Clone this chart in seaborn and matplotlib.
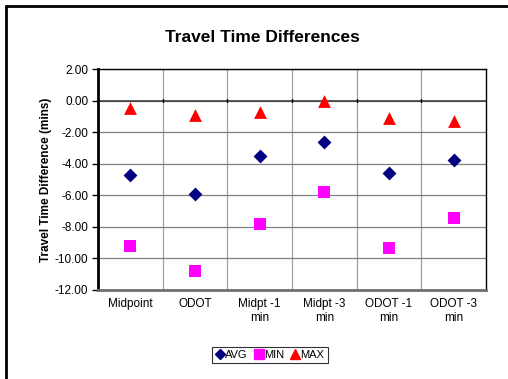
import matplotlib
matplotlib.use("Agg")
import matplotlib.pyplot as plt
from matplotlib.lines import Line2D
import numpy as np
import pandas as pd
import seaborn as sns

categories = ["Midpoint", "ODOT", "Midpt -1\nmin", "Midpt -3\nmin", "ODOT -1\nmin", "ODOT -3\nmin"]
avg_vals = [-4.70, -5.90, -3.50, -2.65, -4.60, -3.75]
min_vals = [-9.20, -10.80, -7.80, -5.80, -9.35, -7.45]
max_vals = [-0.45, -0.90, -0.70, -0.02, -1.10, -1.30]
y_ticks = [2, 0, -2, -4, -6, -8, -10, -12]

series_names = ["AVG", "MIN", "MAX"]
series_colors = {"AVG": "#000080", "MIN": "#FF00FF", "MAX": "#FF0000"}
series_markers = {"AVG": "D", "MIN": "s", "MAX": "^"}
series_sizes = {"AVG": 50, "MIN": 75, "MAX": 85}

df = pd.DataFrame({
    "category": categories * 3,
    "value": avg_vals + min_vals + max_vals,
    "series": ["AVG"] * 6 + ["MIN"] * 6 + ["MAX"] * 6,
})

sns.set_theme(style="white")
plt.rcParams["font.family"] = ["Liberation Sans", "DejaVu Sans"]
plt.rcParams["text.color"] = "black"
plt.rcParams["axes.labelcolor"] = "black"
plt.rcParams["xtick.color"] = "black"
plt.rcParams["ytick.color"] = "black"

fig = plt.figure(figsize=(5.08, 3.79), dpi=100)
ax = fig.add_axes([98 / 508, 1 - 290 / 379, (486 - 98) / 508, (290 - 69) / 379])

for name in series_names:
    sub = df[df["series"] == name]
    sns.scatterplot(data=sub, x="category", y="value", marker=series_markers[name],
                    color=series_colors[name], s=series_sizes[name], linewidth=0,
                    ax=ax, zorder=5, legend=False)

ax.set_xlim(-0.5, len(categories) - 0.5)
ax.set_ylim(-12, 2)
ax.set_yticks(y_ticks)
ax.set_yticklabels([f"{v:.2f}" for v in y_ticks], fontsize=8.5)
ax.set_xticks(range(len(categories)))
ax.set_xticklabels(categories, fontsize=8.5)
ax.set_xticks(np.arange(0.5, len(categories) - 0.5, 1.0), minor=True)

# horizontal and vertical gridlines
ax.grid(axis="y", which="major", color="#808080", linewidth=0.9)
ax.grid(axis="x", which="minor", color="#A0A0A0", linewidth=0.9)
ax.set_axisbelow(True)

# zero line with category ticks
ax.axhline(0, color="#404040", linewidth=1.2, zorder=2)
for xb in np.arange(0.5, len(categories) - 0.5, 1.0):
    ax.plot([xb, xb], [0.12, -0.12], color="black", linewidth=1.0, zorder=3)

ax.tick_params(axis="y", which="major", direction="out", length=4, width=1, color="black",
               left=True, pad=3, labelcolor="black")
ax.tick_params(axis="x", which="both", length=0, pad=6, labelcolor="black")

for side in ["top", "right"]:
    ax.spines[side].set_color("black")
    ax.spines[side].set_linewidth(1.0)
ax.spines["left"].set_color("black")
ax.spines["left"].set_linewidth(2.0)
ax.spines["bottom"].set_color("#707070")
ax.spines["bottom"].set_linewidth(2.0)

ax.set_xlabel("")
ax.set_ylabel("Travel Time Difference (mins)", fontsize=8.5, fontweight="bold", labelpad=2)

fig.text(262 / 508, 1 - 38 / 379, "Travel Time Differences", ha="center", va="center",
         fontsize=12.5, fontweight="bold", color="black")

handles = [Line2D([], [], linestyle="none", marker=series_markers[n], color=series_colors[n],
                  markersize=5.5 if n == "AVG" else 7) for n in series_names]
leg = fig.legend(handles, series_names, loc="center", bbox_to_anchor=(270 / 508, 1 - 355 / 379),
                 ncol=3, fontsize=8, frameon=True, fancybox=False, handlelength=0.7,
                 handletextpad=0.1, columnspacing=0.7, borderpad=0.3, borderaxespad=0)
leg.get_frame().set_edgecolor("black")
leg.get_frame().set_linewidth(0.8)

# chart area border on the left and top
fig.add_artist(Line2D([6 / 508, 6 / 508], [0, 1 - 6 / 379], color="black", linewidth=2.0,
                      transform=fig.transFigure))
fig.add_artist(Line2D([6 / 508, 1], [1 - 6 / 379, 1 - 6 / 379], color="black", linewidth=2.0,
                      transform=fig.transFigure))

fig.savefig("out.png", dpi=100)
